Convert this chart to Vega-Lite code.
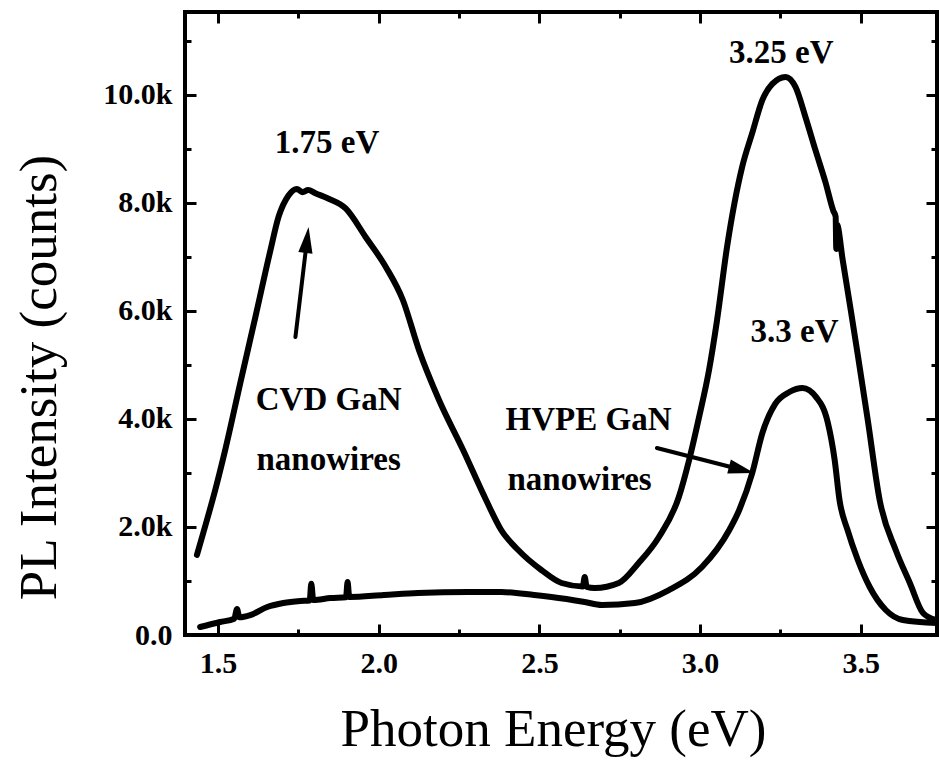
{
  "$schema": "https://vega.github.io/schema/vega-lite/v6.json",
  "width": 752,
  "height": 623,
  "autosize": {"type": "none"},
  "padding": {"left": 185, "top": 12, "right": 2, "bottom": 126},
  "background": "white",
  "config": {
    "font": "Liberation Serif",
    "view": {"stroke": "black", "strokeWidth": 4},
    "axis": {"grid": false, "domain": false, "ticks": true, "zindex": 1, "tickColor": "black", "tickWidth": 3, "tickOpacity": 1, "labelColor": "black", "titleColor": "black", "labelFont": "Liberation Serif", "titleFont": "Liberation Serif", "labelFlush": false, "labelOverlap": false}
  },
  "datasets": {
    "spectra": [
      {"E": 1.434, "counts": 1482, "sample": "CVD"},
      {"E": 1.459, "counts": 2000, "sample": "CVD"},
      {"E": 1.491, "counts": 2685, "sample": "CVD"},
      {"E": 1.522, "counts": 3426, "sample": "CVD"},
      {"E": 1.569, "counts": 4667, "sample": "CVD"},
      {"E": 1.616, "counts": 5889, "sample": "CVD"},
      {"E": 1.663, "counts": 7130, "sample": "CVD"},
      {"E": 1.688, "counts": 7741, "sample": "CVD"},
      {"E": 1.719, "counts": 8140, "sample": "CVD"},
      {"E": 1.745, "counts": 8260, "sample": "CVD"},
      {"E": 1.7625, "counts": 8200, "sample": "CVD"},
      {"E": 1.78, "counts": 8240, "sample": "CVD"},
      {"E": 1.803, "counts": 8180, "sample": "CVD"},
      {"E": 1.844, "counts": 8080, "sample": "CVD"},
      {"E": 1.897, "counts": 7900, "sample": "CVD"},
      {"E": 1.959, "counts": 7371, "sample": "CVD"},
      {"E": 2.022, "counts": 6815, "sample": "CVD"},
      {"E": 2.075, "counts": 6204, "sample": "CVD"},
      {"E": 2.125, "counts": 5278, "sample": "CVD"},
      {"E": 2.1875, "counts": 4352, "sample": "CVD"},
      {"E": 2.2625, "counts": 3426, "sample": "CVD"},
      {"E": 2.334, "counts": 2500, "sample": "CVD"},
      {"E": 2.381, "counts": 1945, "sample": "CVD"},
      {"E": 2.434, "counts": 1574, "sample": "CVD"},
      {"E": 2.506, "counts": 1204, "sample": "CVD"},
      {"E": 2.569, "counts": 963, "sample": "CVD"},
      {"E": 2.635, "counts": 900, "sample": "CVD"},
      {"E": 2.641, "counts": 1074, "sample": "CVD"},
      {"E": 2.647, "counts": 890, "sample": "CVD"},
      {"E": 2.672, "counts": 870, "sample": "CVD"},
      {"E": 2.747, "counts": 963, "sample": "CVD"},
      {"E": 2.809, "counts": 1333, "sample": "CVD"},
      {"E": 2.872, "counts": 1815, "sample": "CVD"},
      {"E": 2.934, "counts": 2556, "sample": "CVD"},
      {"E": 2.966, "counts": 3241, "sample": "CVD"},
      {"E": 2.997, "counts": 4037, "sample": "CVD"},
      {"E": 3.028, "counts": 4908, "sample": "CVD"},
      {"E": 3.053, "counts": 5834, "sample": "CVD"},
      {"E": 3.084, "counts": 7186, "sample": "CVD"},
      {"E": 3.131, "counts": 8667, "sample": "CVD"},
      {"E": 3.1625, "counts": 9297, "sample": "CVD"},
      {"E": 3.194, "counts": 9908, "sample": "CVD"},
      {"E": 3.225, "counts": 10205, "sample": "CVD"},
      {"E": 3.266, "counts": 10334, "sample": "CVD"},
      {"E": 3.297, "counts": 10149, "sample": "CVD"},
      {"E": 3.328, "counts": 9593, "sample": "CVD"},
      {"E": 3.359, "counts": 8982, "sample": "CVD"},
      {"E": 3.391, "counts": 8371, "sample": "CVD"},
      {"E": 3.415, "counts": 7850, "sample": "CVD"},
      {"E": 3.422, "counts": 7750, "sample": "CVD"},
      {"E": 3.424, "counts": 7150, "sample": "CVD"},
      {"E": 3.426, "counts": 7600, "sample": "CVD"},
      {"E": 3.444, "counts": 6945, "sample": "CVD"},
      {"E": 3.469, "counts": 6019, "sample": "CVD"},
      {"E": 3.491, "counts": 5186, "sample": "CVD"},
      {"E": 3.522, "counts": 3982, "sample": "CVD"},
      {"E": 3.559, "counts": 2500, "sample": "CVD"},
      {"E": 3.609, "counts": 1574, "sample": "CVD"},
      {"E": 3.653, "counts": 963, "sample": "CVD"},
      {"E": 3.694, "counts": 407, "sample": "CVD"},
      {"E": 3.734, "counts": 278, "sample": "CVD"},
      {"E": 1.444, "counts": 148, "sample": "HVPE"},
      {"E": 1.506, "counts": 241, "sample": "HVPE"},
      {"E": 1.55, "counts": 300, "sample": "HVPE"},
      {"E": 1.559, "counts": 480, "sample": "HVPE"},
      {"E": 1.566, "counts": 330, "sample": "HVPE"},
      {"E": 1.6, "counts": 370, "sample": "HVPE"},
      {"E": 1.653, "counts": 519, "sample": "HVPE"},
      {"E": 1.703, "counts": 593, "sample": "HVPE"},
      {"E": 1.756, "counts": 630, "sample": "HVPE"},
      {"E": 1.785, "counts": 640, "sample": "HVPE"},
      {"E": 1.79, "counts": 950, "sample": "HVPE"},
      {"E": 1.796, "counts": 648, "sample": "HVPE"},
      {"E": 1.85, "counts": 685, "sample": "HVPE"},
      {"E": 1.898, "counts": 700, "sample": "HVPE"},
      {"E": 1.903, "counts": 980, "sample": "HVPE"},
      {"E": 1.908, "counts": 704, "sample": "HVPE"},
      {"E": 2.016, "counts": 741, "sample": "HVPE"},
      {"E": 2.122, "counts": 778, "sample": "HVPE"},
      {"E": 2.278, "counts": 796, "sample": "HVPE"},
      {"E": 2.381, "counts": 796, "sample": "HVPE"},
      {"E": 2.484, "counts": 741, "sample": "HVPE"},
      {"E": 2.5375, "counts": 704, "sample": "HVPE"},
      {"E": 2.641, "counts": 611, "sample": "HVPE"},
      {"E": 2.694, "counts": 556, "sample": "HVPE"},
      {"E": 2.797, "counts": 593, "sample": "HVPE"},
      {"E": 2.903, "counts": 833, "sample": "HVPE"},
      {"E": 3.006, "counts": 1259, "sample": "HVPE"},
      {"E": 3.091, "counts": 1945, "sample": "HVPE"},
      {"E": 3.122, "counts": 2315, "sample": "HVPE"},
      {"E": 3.1625, "counts": 3000, "sample": "HVPE"},
      {"E": 3.194, "counts": 3741, "sample": "HVPE"},
      {"E": 3.234, "counts": 4280, "sample": "HVPE"},
      {"E": 3.278, "counts": 4500, "sample": "HVPE"},
      {"E": 3.319, "counts": 4574, "sample": "HVPE"},
      {"E": 3.362, "counts": 4400, "sample": "HVPE"},
      {"E": 3.397, "counts": 3950, "sample": "HVPE"},
      {"E": 3.419, "counts": 3241, "sample": "HVPE"},
      {"E": 3.434, "counts": 2500, "sample": "HVPE"},
      {"E": 3.459, "counts": 1945, "sample": "HVPE"},
      {"E": 3.491, "counts": 1389, "sample": "HVPE"},
      {"E": 3.528, "counts": 889, "sample": "HVPE"},
      {"E": 3.578, "counts": 463, "sample": "HVPE"},
      {"E": 3.631, "counts": 278, "sample": "HVPE"},
      {"E": 3.7375, "counts": 222, "sample": "HVPE"}
    ],
    "notes": [
      {"E": 1.839, "counts": 8927, "label": "1.75 eV"},
      {"E": 3.253, "counts": 10593, "label": "3.25 eV"},
      {"E": 3.294, "counts": 5426, "label": "3.3 eV"},
      {"E": 1.844, "counts": 4167, "label": "CVD GaN"},
      {"E": 1.844, "counts": 3056, "label": "nanowires"},
      {"E": 2.653, "counts": 3797, "label": "HVPE GaN"},
      {"E": 2.625, "counts": 2685, "label": "nanowires"}
    ],
    "arrows": [
      {"name": "CVD", "E": 1.7406, "counts": 5519, "E2": 1.7766, "counts2": 7315},
      {"name": "HVPE", "E": 2.8656, "counts": 3463, "E2": 3.1294, "counts2": 3060}
    ]
  },
  "resolve": {"axis": {"x": "independent", "y": "independent"}},
  "layer": [
    {
      "data": {"name": "spectra"},
      "transform": [{"filter": "datum.sample == 'CVD'"}],
      "mark": {"type": "line", "stroke": "black", "strokeWidth": 6, "strokeJoin": "round", "strokeCap": "round", "interpolate": "monotone"},
      "encoding": {
        "x": {"field": "E", "type": "quantitative", "scale": {"domain": [1.3969, 3.7375], "nice": false, "zero": false},
          "axis": {"orient": "bottom", "values": [1.5, 2, 2.5, 3, 3.5], "format": ".1f", "title": "Photon Energy (eV)",
            "offset": -11, "tickSize": 11, "labelFontSize": 30, "labelFontWeight": "bold", "labelPadding": 13, "labelBaseline": "top",
            "titleFontSize": 53, "titleFontWeight": "normal", "titleX": 368, "titleY": 121, "titleAlign": "center", "titleBaseline": "alphabetic"}},
        "y": {"field": "counts", "type": "quantitative", "scale": {"domain": [0, 11537], "nice": false, "zero": false},
          "axis": {"orient": "left", "values": [0, 2000, 4000, 6000, 8000, 10000],
            "labelExpr": "datum.value == 0 ? '0.0' : format(datum.value / 1000, '.1f') + 'k'",
            "title": "PL Intensity (counts)", "offset": -11, "tickSize": 11, "labelFontSize": 30, "labelFontWeight": "bold", "labelPadding": 13,
            "titleFontSize": 53, "titleFontWeight": "normal", "titleAngle": -90, "titleX": -141, "titleY": 365, "titleAlign": "center", "titleBaseline": "alphabetic"}}
      }
    },
    {
      "data": {"name": "spectra"},
      "transform": [{"filter": "datum.sample == 'HVPE'"}],
      "mark": {"type": "line", "stroke": "black", "strokeWidth": 6, "strokeJoin": "round", "strokeCap": "round", "interpolate": "monotone"},
      "encoding": {
        "x": {"field": "E", "type": "quantitative", "scale": {"domain": [1.3969, 3.7375], "nice": false, "zero": false},
          "axis": {"orient": "top", "values": [1.5, 2, 2.5, 3, 3.5], "labels": false, "title": null, "offset": -11, "tickSize": 11}},
        "y": {"field": "counts", "type": "quantitative", "scale": {"domain": [0, 11537], "nice": false, "zero": false},
          "axis": {"orient": "right", "values": [0, 2000, 4000, 6000, 8000, 10000], "labels": false, "title": null, "offset": -11, "tickSize": 11}}
      }
    },
    {
      "data": {"name": "notes"},
      "mark": {"type": "text", "font": "Liberation Serif", "fontWeight": "bold", "fontSize": 33, "align": "center", "baseline": "alphabetic", "color": "black"},
      "encoding": {
        "x": {"field": "E", "type": "quantitative", "scale": {"domain": [1.3969, 3.7375], "nice": false, "zero": false},
          "axis": {"orient": "bottom", "values": [1.75, 2.25, 2.75, 3.25], "labels": false, "title": null, "offset": -6, "tickSize": 6}},
        "y": {"field": "counts", "type": "quantitative", "scale": {"domain": [0, 11537], "nice": false, "zero": false},
          "axis": {"orient": "left", "values": [1000, 3000, 5000, 7000, 9000, 11000], "labels": false, "title": null, "offset": -6, "tickSize": 6}},
        "text": {"field": "label"}
      }
    },
    {
      "data": {"name": "arrows"},
      "mark": {"type": "rule", "stroke": "black", "strokeWidth": 4, "strokeCap": "round"},
      "encoding": {
        "x": {"field": "E", "type": "quantitative", "scale": {"domain": [1.3969, 3.7375], "nice": false, "zero": false},
          "axis": {"orient": "top", "values": [1.75, 2.25, 2.75, 3.25], "labels": false, "title": null, "offset": -6, "tickSize": 6}},
        "y": {"field": "counts", "type": "quantitative", "scale": {"domain": [0, 11537], "nice": false, "zero": false},
          "axis": {"orient": "right", "values": [1000, 3000, 5000, 7000, 9000, 11000], "labels": false, "title": null, "offset": -6, "tickSize": 6}},
        "x2": {"field": "E2"},
        "y2": {"field": "counts2"}
      }
    },
    {
      "data": {"name": "arrows"},
      "transform": [{"filter": "datum.name == 'CVD'"}],
      "mark": {"type": "point", "shape": "M0,-1L0.55,1L-0.55,1Z", "size": 676, "angle": 7, "filled": true, "color": "black", "opacity": 1, "strokeWidth": 0},
      "encoding": {
        "x": {"field": "E2", "type": "quantitative", "scale": {"domain": [1.3969, 3.7375], "nice": false, "zero": false}, "axis": null},
        "y": {"field": "counts2", "type": "quantitative", "scale": {"domain": [0, 11537], "nice": false, "zero": false}, "axis": null}
      }
    },
    {
      "data": {"name": "arrows"},
      "transform": [{"filter": "datum.name == 'HVPE'"}],
      "mark": {"type": "point", "shape": "M0,-1L0.55,1L-0.55,1Z", "size": 676, "angle": 104.7, "filled": true, "color": "black", "opacity": 1, "strokeWidth": 0},
      "encoding": {
        "x": {"field": "E2", "type": "quantitative", "scale": {"domain": [1.3969, 3.7375], "nice": false, "zero": false}, "axis": null},
        "y": {"field": "counts2", "type": "quantitative", "scale": {"domain": [0, 11537], "nice": false, "zero": false}, "axis": null}
      }
    }
  ]
}
